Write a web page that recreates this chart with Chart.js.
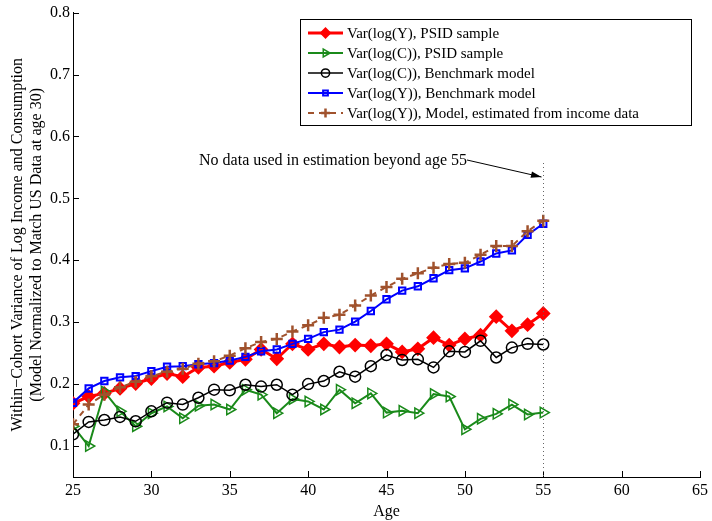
<!DOCTYPE html>
<html>
<head>
<meta charset="utf-8">
<script src="https://cdn.jsdelivr.net/npm/chart.js@4/dist/chart.umd.min.js"></script>
<style>
  html, body { margin: 0; padding: 0; background: #fff; }
  #wrap { width: 712px; height: 521px; }
</style>
</head>
<body>
<div id="wrap"><canvas id="chart" width="712" height="521"></canvas></div>
<script>
// ages 25..55
const ages = [25, 26, 27, 28, 29, 30, 31, 32, 33, 34, 35, 36, 37, 38, 39, 40,
              41, 42, 43, 44, 45, 46, 47, 48, 49, 50, 51, 52, 53, 54, 55];

const varYPsid = [0.169, 0.180, 0.185, 0.193, 0.201, 0.209, 0.217, 0.212, 0.227, 0.229, 0.235,
                  0.240, 0.256, 0.241, 0.265, 0.256, 0.265, 0.260, 0.263, 0.262, 0.265,
                  0.252, 0.257, 0.275, 0.263, 0.273, 0.279, 0.309, 0.286, 0.296, 0.314];
const varCPsid = [0.132, 0.100, 0.188, 0.156, 0.132, 0.153, 0.164, 0.145, 0.165, 0.167, 0.159,
                  0.191, 0.183, 0.153, 0.176, 0.172, 0.159, 0.191, 0.169, 0.185, 0.154,
                  0.157, 0.153, 0.184, 0.180, 0.127, 0.144, 0.152, 0.167, 0.151, 0.154];
const varCModel = [0.119, 0.139, 0.142, 0.147, 0.140, 0.156, 0.170, 0.167, 0.178, 0.191, 0.190,
                   0.199, 0.196, 0.199, 0.183, 0.200, 0.205, 0.220, 0.212, 0.229, 0.247,
                   0.239, 0.240, 0.227, 0.253, 0.252, 0.270, 0.243, 0.259, 0.265, 0.264];
const varYModel = [0.170, 0.193, 0.205, 0.211, 0.213, 0.221, 0.228, 0.229, 0.232, 0.234, 0.238,
                   0.244, 0.253, 0.256, 0.265, 0.273, 0.284, 0.288, 0.301, 0.318, 0.337,
                   0.351, 0.358, 0.371, 0.384, 0.387, 0.398, 0.411, 0.416, 0.441, 0.459];
const varYEst = [0.135, 0.167, 0.183, 0.195, 0.204, 0.213, 0.220, 0.225, 0.233, 0.237, 0.246,
                 0.258, 0.268, 0.273, 0.285, 0.295, 0.307, 0.312, 0.327, 0.343, 0.357,
                 0.370, 0.379, 0.388, 0.394, 0.396, 0.409, 0.423, 0.423, 0.447, 0.464];

const seriesNames = [
  'Var(log(Y), PSID sample',
  'Var(log(C)), PSID sample',
  'Var(log(C)), Benchmark model',
  'Var(log(Y)), Benchmark model',
  'Var(log(Y)), Model, estimated from income data'
];

const yTicks = [0.1, 0.2, 0.3, 0.4, 0.5, 0.6, 0.7, 0.8];
const xTicks = [25, 30, 35, 40, 45, 50, 55, 60, 65];

const noteText = 'No data used in estimation beyond age 55';
const noteAge = 55;

const FONT = '"Liberation Serif", "Times New Roman", serif';
const BROWN = '#a0522d';
const GREEN = '#1a8a1a';
const NONE = 'rgba(0,0,0,0)';

function pts(vals) {
  return ages.map((a, i) => ({ x: a, y: vals[i] }));
}

const datasets = [
  { label: seriesNames[0], data: pts(varYPsid), borderColor: '#ff0000', backgroundColor: '#ff0000',
    borderWidth: 3, pointStyle: 'rectRot', pointRadius: 6, pointBorderWidth: 2, order: 5 },
  { label: seriesNames[1], data: pts(varCPsid), borderColor: GREEN, backgroundColor: NONE,
    borderWidth: 2, pointStyle: 'triangle', pointRotation: 90, pointRadius: 6, pointBorderWidth: 1.5, order: 4 },
  { label: seriesNames[2], data: pts(varCModel), borderColor: '#000000', backgroundColor: NONE,
    borderWidth: 1.5, pointStyle: 'circle', pointRadius: 5.5, pointBorderWidth: 1.5, order: 3 },
  { label: seriesNames[3], data: pts(varYModel), borderColor: '#0000ff', backgroundColor: NONE,
    borderWidth: 2, pointStyle: 'rect', pointRadius: 4.5, pointBorderWidth: 2, order: 2 },
  { label: seriesNames[4], data: pts(varYEst), borderColor: BROWN, backgroundColor: BROWN,
    borderWidth: 2, borderDash: [6, 5], pointStyle: 'cross', pointRadius: 6, pointBorderWidth: 2.5, order: 1 }
];

// legend box, note + arrow, dotted line at 55, inward ticks
const extras = {
  id: 'extras',
  afterDraw(chart) {
    const ctx = chart.ctx;
    const xs = chart.scales.x, ys = chart.scales.y;
    const area = chart.chartArea;
    ctx.save();

    // inward ticks
    ctx.strokeStyle = '#000';
    ctx.lineWidth = 1;
    ctx.beginPath();
    xTicks.forEach(v => {
      const px = Math.round(xs.getPixelForValue(v)) + 0.5;
      ctx.moveTo(px, area.bottom); ctx.lineTo(px, area.bottom - 6);
    });
    yTicks.forEach(v => {
      const py = Math.round(ys.getPixelForValue(v)) + 0.5;
      ctx.moveTo(area.left, py); ctx.lineTo(area.left + 6, py);
    });
    ctx.stroke();

    // dotted line at 55
    const x55 = Math.round(xs.getPixelForValue(noteAge)) + 0.5;
    ctx.strokeStyle = '#666';
    ctx.setLineDash([1, 3]);
    ctx.beginPath();
    ctx.moveTo(x55, 163); ctx.lineTo(x55, area.bottom);
    ctx.stroke();
    ctx.setLineDash([]);

    // note text + arrow
    ctx.fillStyle = '#000';
    ctx.font = '16px ' + FONT;
    ctx.textAlign = 'right';
    ctx.textBaseline = 'middle';
    ctx.fillText(noteText, 467, 161);
    const ax0 = 467, ay0 = 160, ax1 = x55 - 2, ay1 = 177;
    ctx.strokeStyle = '#000';
    ctx.lineWidth = 1;
    ctx.beginPath(); ctx.moveTo(ax0, ay0); ctx.lineTo(ax1, ay1); ctx.stroke();
    const ang = Math.atan2(ay1 - ay0, ax1 - ax0);
    ctx.beginPath();
    ctx.moveTo(ax1, ay1);
    ctx.lineTo(ax1 - 11 * Math.cos(ang - 0.3), ay1 - 11 * Math.sin(ang - 0.3));
    ctx.lineTo(ax1 - 11 * Math.cos(ang + 0.3), ay1 - 11 * Math.sin(ang + 0.3));
    ctx.closePath(); ctx.fill();

    // legend
    const bx = 300.5, by = 19.5, bw = 391, bh = 106;
    ctx.fillStyle = '#fff';
    ctx.fillRect(bx, by, bw, bh);
    ctx.strokeStyle = '#000';
    ctx.lineWidth = 1;
    ctx.strokeRect(bx, by, bw, bh);
    datasets.forEach((ds, i) => {
      const ly = 33 + i * 20;
      ctx.strokeStyle = ds.borderColor;
      ctx.lineWidth = ds.borderWidth;
      ctx.setLineDash(ds.borderDash || []);
      ctx.beginPath(); ctx.moveTo(308, ly); ctx.lineTo(343, ly); ctx.stroke();
      ctx.setLineDash([]);
      ctx.lineWidth = ds.pointBorderWidth;
      ctx.fillStyle = ds.backgroundColor;
      Chart.helpers.drawPoint(ctx, {
        pointStyle: ds.pointStyle, rotation: ds.pointRotation || 0,
        radius: ds.pointRadius * 0.75, borderWidth: ds.pointBorderWidth
      }, 325.5, ly);
      ctx.fillStyle = '#000';
      ctx.font = '15px ' + FONT;
      ctx.textAlign = 'left';
      ctx.textBaseline = 'middle';
      ctx.fillText(ds.label, 347, ly + 1);
    });
    ctx.restore();
  }
};

Chart.defaults.font.family = FONT;
Chart.defaults.color = '#000';

new Chart(document.getElementById('chart'), {
  type: 'line',
  data: { datasets: datasets },
  options: {
    responsive: false,
    animation: false,
    layout: { padding: { top: 9, right: 11, left: 0, bottom: 0 } },
    plugins: { legend: { display: false }, tooltip: { enabled: false } },
    elements: { line: { tension: 0 } },
    scales: {
      x: {
        type: 'linear', min: 25, max: 65,
        afterBuildTicks: s => { s.ticks = xTicks.map(v => ({ value: v })); },
        afterFit: s => { s.height = 44; },
        grid: { display: false, drawTicks: false },
        border: { display: true, color: '#000', width: 1 },
        ticks: { padding: 4, font: { size: 16 }, maxRotation: 0, callback: v => String(v) },
        title: { display: true, text: 'Age', font: { size: 16 }, padding: { top: 0, bottom: 0 } }
      },
      y: {
        type: 'linear', min: 0.05, max: 0.8,
        afterBuildTicks: s => { s.ticks = yTicks.map(v => ({ value: v })); },
        afterFit: s => { s.width = 73; },
        grid: { display: false, drawTicks: false },
        border: { display: true, color: '#000', width: 1 },
        ticks: { padding: 3, font: { size: 16 }, callback: v => Number(v).toFixed(1) },
        title: { display: true, font: { size: 16 }, padding: { top: 8, bottom: 0 },
          text: ['Within\u2212Cohort Variance of Log Income and Consumption',
                 '(Model Normalized to Match US Data at age 30)'] }
      }
    }
  },
  plugins: [extras]
});
</script>
</body>
</html>
